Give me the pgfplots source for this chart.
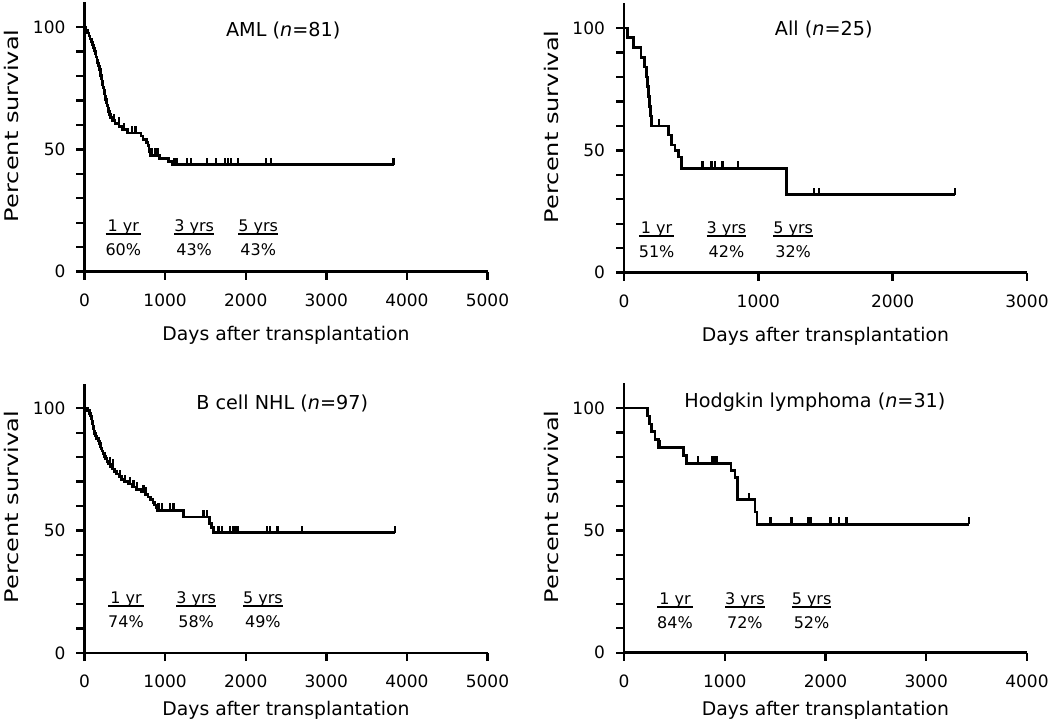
\documentclass[border=0pt]{standalone}
\usepackage{fontspec}
\setmainfont{DejaVu Sans}
\usepackage{pgfplots}
\pgfplotsset{compat=1.18}

% censor tick: short stroke above the curve
\pgfdeclareplotmark{cens}{%
  \pgfpathmoveto{\pgfqpoint{0pt}{0pt}}%
  \pgfpathlineto{\pgfqpoint{0pt}{3.5pt}}%
  \pgfusepathqstroke}

\pgfplotsset{
  km/.style={
    width=201.5pt, height=134.6pt, scale only axis,
    axis lines=left, axis line style={-, line width=1.3pt},
    tick style={black, line width=1.2pt},
    tick align=outside, major tick length=4pt, minor tick length=4pt,
    xmin=0, ymin=0, ymax=110,
    ytick={0,50,100}, minor ytick={10,20,30,40,60,70,80,90},
    /pgf/number format/assume math mode=true,
    /pgf/number format/1000 sep={},
    scaled x ticks=false,
    tick label style={font=\fontsize{8.5}{10}\selectfont},
    xticklabel style={yshift=-3.5pt},
    yticklabel style={xshift=-2pt},
    xlabel={Days after transplantation},
    ylabel={\scalebox{1.28}[1]{Percent survival}},
    every axis x label/.style={at={(axis description cs:0.5,-0.235)}, anchor=center,
      font=\fontsize{9.4}{11}\selectfont},
    every axis y label/.style={at={(axis description cs:-0.18,0.542)}, rotate=90, anchor=center,
      font=\fontsize{9.4}{11}\selectfont},
    clip=false,
  },
  lower/.style={every axis x label/.append style={at={(axis description cs:0.5,-0.213)}}},
  curve/.style={black, line width=1.3pt, const plot, mark=none},
  cmarks/.style={black, only marks, mark=cens, mark options={line width=1.1pt}},
}
% year label over survival figure, the rule sits at the node's point
\newcommand{\ann}[2]{{\fontsize{8}{9.6}\selectfont\setlength{\arrayrulewidth}{0.8pt}%
  \begin{tabular}[t]{@{}c@{}}#1\\[-2pt]\hline\rule{0pt}{10.5pt}#2\end{tabular}}}
\newcommand{\ttl}{\fontsize{9.6}{11}\selectfont}
\tikzset{yr/.style={anchor=base, inner sep=0pt, yshift=0.9pt}}

\begin{document}
\begin{tikzpicture}
\useasboundingbox (0,0) rectangle (525pt,361.5pt);

% AML
\begin{axis}[km, at={(42.25pt,225.65pt)}, anchor=south west, xmax=5000,
  xtick={0,1000,2000,3000,4000,5000}]
\addplot[curve] table {
0 100
20 98.8
40 97.5
55 96.3
70 95.1
85 93.8
100 92.6
115 91.4
125 90.1
135 88.9
145 87.7
155 86.4
165 85.2
175 84.0
185 82.7
195 81.5
200 80.2
210 79.0
218 77.8
225 76.5
232 75.3
240 74.1
248 72.8
255 71.6
262 70.4
270 69.1
280 67.9
290 66.7
300 65.4
310 64.2
325 63.0
345 61.7
380 60.5
430 59.3
470 58.0
530 56.7
700 55.4
725 54.1
770 52.8
790 51.5
800 50.2
810 48.9
820 47.6
930 46.3
1040 45.0
1090 43.7
3834 43.7
};
\addplot[cmarks] table {
364 61.7
426 60.5
488 58.0
592 56.7
633 56.7
840 47.6
882 47.6
910 47.6
1109 43.7
1130 43.7
1151 43.7
1275 43.7
1325 43.7
1524 43.7
1627 43.7
1739 43.7
1780 43.7
1822 43.7
1904 43.7
2248 43.7
2310 43.7
3834 43.7
};
\node[font=\ttl] at (axis cs:2465,98.6) {AML (\textit{n}=81)};
\node[yr] at (axis cs:482,15.7) {\ann{1 yr}{60\%}};
\node[yr] at (axis cs:1360,15.7) {\ann{3 yrs}{43\%}};
\node[yr] at (axis cs:2155,15.7) {\ann{5 yrs}{43\%}};
\end{axis}

% ALL
\begin{axis}[km, at={(312pt,225.15pt)}, anchor=south west, xmax=3000,
  xtick={0,1000,2000,3000}]
\addplot[curve] table {
0 100
25 96
69 92
126 88
152 84
169 80
176 76
183 72
190 68
197 64
206 60
330 56.2
354 52.1
379 50.0
404 47.3
429 42.6
1209 31.9
2461 31.9
};
\addplot[cmarks] table {
263 60
585 42.6
652 42.6
677 42.6
733 42.6
850 42.6
1415 31.9
1450 31.9
2461 31.9
};
\node[font=\ttl] at (axis cs:1487,99.5) {All (\textit{n}=25)};
\node[yr] at (axis cs:243,15.4) {\ann{1 yr}{51\%}};
\node[yr] at (axis cs:763,15.4) {\ann{3 yrs}{42\%}};
\node[yr] at (axis cs:1259,15.4) {\ann{5 yrs}{32\%}};
\end{axis}

% B cell NHL
\begin{axis}[km, lower, at={(42.25pt,35pt)}, anchor=south west, xmax=5000,
  xtick={0,1000,2000,3000,4000,5000}]
\addplot[curve] table {
0 100
40 99.0
60 97.9
75 96.9
85 95.9
92 94.8
98 93.8
104 92.8
110 91.8
116 90.7
125 89.7
135 88.7
150 87.6
170 86.6
185 85.6
195 84.5
205 83.5
215 82.5
230 81.4
245 80.4
260 79.4
280 78.3
300 77.3
320 76.3
345 75.2
370 74.2
400 73.1
430 72.1
460 71.0
500 70.0
540 69.0
590 67.9
640 66.9
700 65.8
760 64.8
790 63.7
820 62.6
850 61.6
870 60.5
885 59.4
900 58.3
1227 55.6
1550 53.0
1575 51.3
1600 49.2
3856 49.2
};
\addplot[cmarks] table {
317 77.3
358 76.3
441 72.1
503 70.0
565 69.0
607 67.9
648 66.9
731 65.8
764 64.8
917 58.3
958 58.3
1062 58.3
1103 58.3
1476 55.6
1517 55.6
1662 49.2
1704 49.2
1807 49.2
1840 49.2
1869 49.2
1898 49.2
2263 49.2
2304 49.2
2395 49.2
2697 49.2
3856 49.2
};
\node[font=\ttl] at (axis cs:2453,101.9) {B cell NHL (\textit{n}=97)};
\node[yr] at (axis cs:515,19.6) {\ann{1 yr}{74\%}};
\node[yr] at (axis cs:1385,19.6) {\ann{3 yrs}{58\%}};
\node[yr] at (axis cs:2213,19.6) {\ann{5 yrs}{49\%}};
\end{axis}

% Hodgkin lymphoma
\begin{axis}[km, lower, at={(312pt,35.15pt)}, anchor=south west, xmax=4000,
  xtick={0,1000,2000,3000,4000}]
\addplot[curve] table {
0 100
231 96.8
251 93.5
274 90.3
308 87.1
345 83.9
588 80.6
622 77.4
1062 74.5
1101 71.6
1124 62.6
1300 57.5
1320 52.5
3426 52.5
};
\addplot[cmarks] table {
357 83.9
737 77.4
879 77.4
903 77.4
926 77.4
1243 62.6
1455 52.5
1663 52.5
1829 52.5
1852 52.5
2050 52.5
2136 52.5
2209 52.5
3426 52.5
};
\node[font=\ttl] at (axis cs:1895,102.3) {Hodgkin lymphoma (\textit{n}=31)};
\node[yr] at (axis cs:506,19.1) {\ann{1 yr}{84\%}};
\node[yr] at (axis cs:1200,19.1) {\ann{3 yrs}{72\%}};
\node[yr] at (axis cs:1862,19.1) {\ann{5 yrs}{52\%}};
\end{axis}
\end{tikzpicture}
\end{document}
